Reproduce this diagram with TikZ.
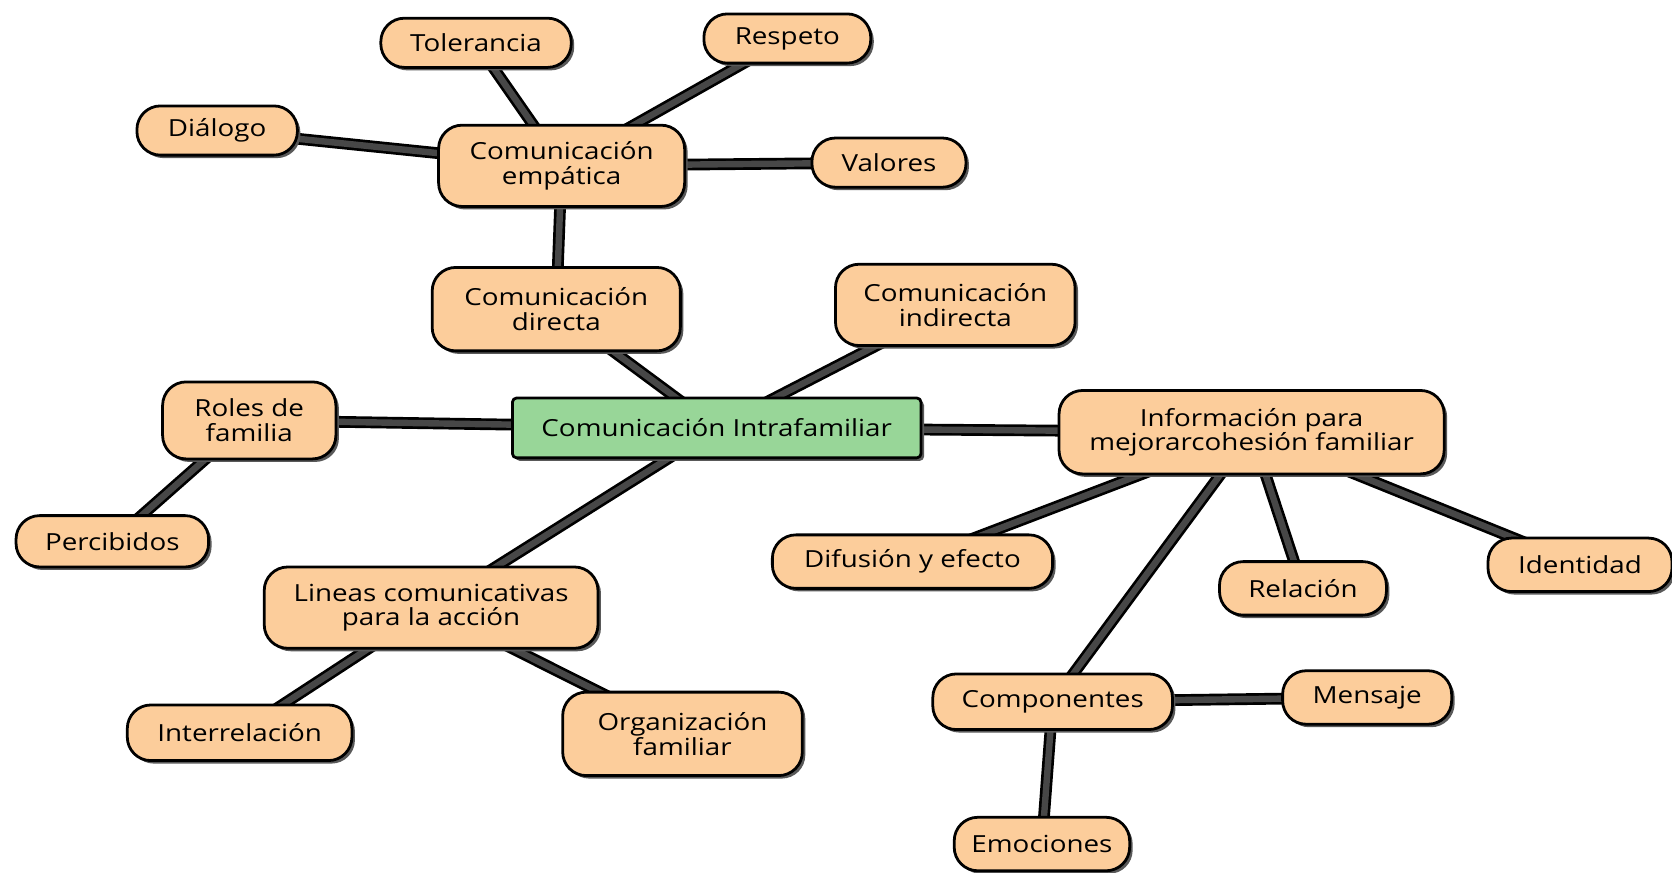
\documentclass[tikz,border=0pt]{standalone}
\usepackage{fontspec}
\setmainfont{Open Sans}[FakeStretch=1.18]
\usetikzlibrary{shadows,backgrounds}
\definecolor{ideaorange}{RGB}{252,205,155}
\definecolor{coregreen}{RGB}{152,214,152}
\tikzset{
	idea/.style={draw=black, line width=1.3pt, fill=ideaorange, rounded corners=11pt, align=center,
		font=\fontsize{11}{11.5}\selectfont, inner sep=2pt,
		drop shadow={shadow xshift=1.4pt, shadow yshift=-1.4pt, fill=black!65, opacity=1}},
	core/.style={idea, fill=coregreen, rounded corners=2pt},
	wh/.style args={#1/#2}{minimum width=#1pt, minimum height=#2pt},
	link/.style={line width=5.5pt, draw=black, line cap=round, postaction={draw=black!72, line width=3pt}}
}
\begin{document}
\begin{tikzpicture}[x=0.5pt, y=-0.5pt, line join=round]
	\useasboundingbox (0,0) rectangle (1563,816);
	% nodos
	\node[core, wh=191/28] (intra) at (670,400) {Comunicación Intrafamiliar};
	\node[idea, wh=89/23] (tol) at (445,40) {Tolerancia};
	\node[idea, wh=78/23] (resp) at (736,36) {Respeto};
	\node[idea, wh=75/23] (dial) at (203,122) {Diálogo};
	\node[idea, wh=115/38] (emp) at (525,155) {Comunicación\\empática};
	\node[idea, wh=72/23] (val) at (831,152) {Valores};
	\node[idea, wh=116/39] (dir) at (520,289) {Comunicación\\directa};
	\node[idea, wh=112/38] (ind) at (893,285) {Comunicación\\indirecta};
	\node[idea, wh=81/36] (roles) at (233,393) {Roles de\\familia};
	\node[idea, wh=180/39] (info) at (1170,404) {Información para\\mejorarcohesión familiar};
	\node[idea, wh=90/24] (perc) at (105,506) {Percibidos};
	\node[idea, wh=131/25] (dif) at (853,525) {Difusión y efecto};
	\node[idea, wh=78/25] (rel) at (1218,550) {Relación};
	\node[idea, wh=86/25] (ident) at (1477,528) {Identidad};
	\node[idea, wh=156/38] (lin) at (403,568) {Lineas comunicativas\\para la acción};
	\node[idea, wh=105/26] (inter) at (224,685) {Interrelación};
	\node[idea, wh=112/39] (org) at (638,686) {Organización\\familiar};
	\node[idea, wh=112/26] (comp) at (984,656) {Componentes};
	\node[idea, wh=79/25] (mens) at (1278,652) {Mensaje};
	\node[idea, wh=82/25] (emo) at (974,789) {Emociones};
	% conectores
	\begin{scope}[on background layer]
		\draw[link] (tol.center) -- (emp.center);
		\draw[link] (resp.center) -- (emp.center);
		\draw[link] (dial.center) -- (emp.center);
		\draw[link] (val.center) -- (emp.center);
		\draw[link] (emp.center) -- (dir.center);
		\draw[link] (dir.center) -- (intra.center);
		\draw[link] (ind.center) -- (intra.center);
		\draw[link] (roles.center) -- (intra.center);
		\draw[link] (roles.center) -- (perc.center);
		\draw[link] (intra.center) -- (info.center);
		\draw[link] (intra.center) -- (lin.center);
		\draw[link] (lin.center) -- (inter.center);
		\draw[link] (lin.center) -- (org.center);
		\draw[link] (info.center) -- (dif.center);
		\draw[link] (info.center) -- (comp.center);
		\draw[link] (info.center) -- (rel.center);
		\draw[link] (info.center) -- (ident.center);
		\draw[link] (comp.center) -- (mens.center);
		\draw[link] (comp.center) -- (emo.center);
	\end{scope}
\end{tikzpicture}
\end{document}
